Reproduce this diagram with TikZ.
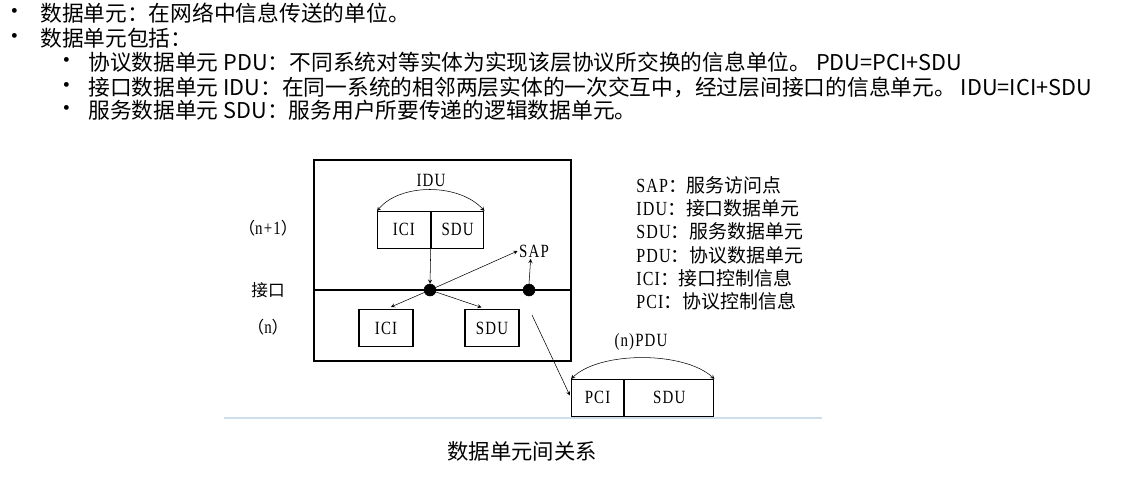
\documentclass[tikz,border=0pt]{standalone}
\usepackage{fontspec}
\usepackage{tikz}
\setmainfont{Noto Sans CJK SC}
\newfontfamily\cjk{Noto Sans CJK SC}
\newfontfamily\serif[FakeStretch=0.8,LetterSpace=6]{Liberation Serif}
\newcommand{\legrow}[2]{{\serif\fontsize{15}{17.5}\selectfont #1}{\cjk ：#2}}
\tikzset{
  txt/.style={anchor=west,inner sep=0pt,font=\fontsize{16.3}{18}\selectfont},
  bul/.style={anchor=center,inner sep=0pt,font=\fontsize{17}{18}\selectfont},
  cell/.style={draw,thick,rectangle,inner sep=0pt,minimum height=27.5pt,font=\serif\fontsize{14}{14}\selectfont},
  dot/.style={circle,fill=black,draw=black,minimum size=9pt,inner sep=0pt},
  lab/.style={inner sep=0pt,font=\fontsize{12.5}{14}\selectfont},
}
\begin{document}
\begin{tikzpicture}[x=0.75pt,y=-0.75pt,>=stealth]
\useasboundingbox (0,0) rectangle (1127,486);
% text above the picture
\node[bul] (b1) at (15,14) {•};
\node[txt] (t1) at (40,13) {数据单元：在网络中信息传送的单位。};
\node[bul] (b2) at (15,39) {•};
\node[txt] (t2) at (40,38) {数据单元包括：};
\node[bul] (b3) at (67,63) {•};
\node[txt] (t3) at (88,62) {协议数据单元 PDU：不同系统对等实体为实现该层协议所交换的信息单位。 PDU=PCI+SDU};
\node[bul] (b4) at (67,88) {•};
\node[txt] (t4) at (88,87) {接口数据单元 IDU：在同一系统的相邻两层实体的一次交互中，经过层间接口的信息单元。 IDU=ICI+SDU};
\node[bul] (b5) at (67,111) {•};
\node[txt] (t5) at (88,110) {服务数据单元 SDU：服务用户所要传递的逻辑数据单元。};

% the two layers
\draw[thick] (314,160) rectangle (571,361);
\draw[thick] (314,290) -- (571,290);
\node[lab] (upper) at (268,228) {（{\serif\fontsize{14}{14}\selectfont n+1}）};
\node[lab] (iface) at (268,290) {接口};
\node[lab] (lower) at (268,327) {（{\serif\fontsize{14}{14}\selectfont n}）};

% IDU in layer n+1
\node[cell,minimum width=39.5pt,anchor=north west] (iciTop) at (377,211) {ICI};
\node[cell,minimum width=39.5pt,anchor=west] (sduTop) at (iciTop.east) {SDU};
\node[lab,font=\serif\fontsize{14}{14}\selectfont] (idu) at (431,180) {IDU};
\draw[<->] (iciTop.north west) .. controls (400,183) and (459,183) .. (sduTop.north east);

% SAPs
\node[dot] (d1) at (430,290) {};
\node[dot] (d2) at (529,290) {};
\node[lab,font=\serif\fontsize{14}{14}\selectfont] (sap) at (534,251) {SAP};
\draw[->] (iciTop.south east) -- (d1.north);
\draw[->] (d1) -- ([xshift=-1pt]sap.west);
\draw[->] (d2.north) -- ([xshift=-2.5pt,yshift=-1pt]sap.south);

% ICI and SDU in layer n
\node[cell,minimum width=40.5pt] (iciLow) at (386,328) {ICI};
\node[cell,minimum width=40.5pt] (sduLow) at (492,328) {SDU};
\draw[->,shorten >=4pt] (d1) -- (iciLow.north);
\draw[->,shorten >=4pt] (d1) -- ([xshift=-4pt]sduLow.north);

% (n)PDU
\node[cell,minimum width=39pt,anchor=north west] (pci) at (571,379) {PCI};
\node[cell,minimum width=67pt,anchor=west] (sduPdu) at (pci.east) {SDU};
\node[lab,font=\serif\fontsize{14}{14}\selectfont] (npdu) at (641,342) {(n)PDU};
\draw[<->] (pci.north west) .. controls (600,351) and (684,351) .. (sduPdu.north east);
\coordinate (from) at (532,315);
\draw[->,shorten >=2pt] (from) -- (pci.west);

% legend
\node[anchor=north west,inner sep=0pt,align=left,font=\fontsize{14.2}{17.5}\selectfont] (legend) at (636,176)
  {\legrow{SAP}{服务访问点}\\ \legrow{IDU}{接口数据单元}\\ \legrow{SDU}{服务数据单元}\\
   \legrow{PDU}{协议数据单元}\\ \legrow{ICI}{接口控制信息}\\ \legrow{PCI}{协议控制信息}};

% caption
\definecolor{rule}{RGB}{205,222,236}
\draw[rule,thick] (224,418) -- (822,418);
\node[inner sep=0pt,font=\fontsize{16}{18}\selectfont] (cap) at (522,451) {数据单元间关系};
\end{tikzpicture}
\end{document}
